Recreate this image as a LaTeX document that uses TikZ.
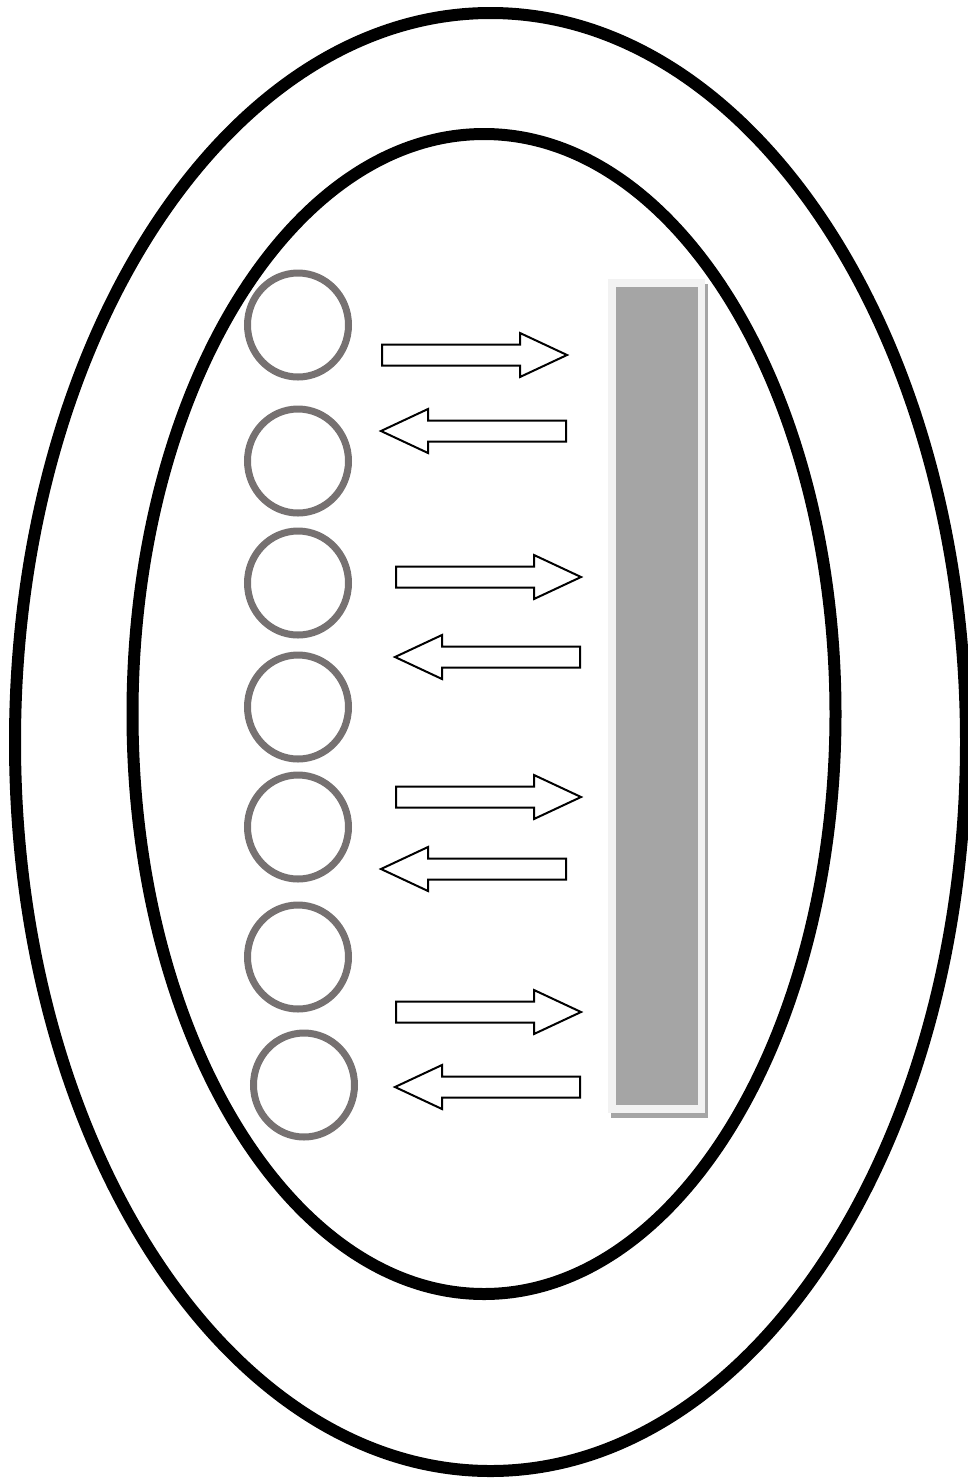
\documentclass[tikz,border=0pt]{standalone}
\usetikzlibrary{shapes.geometric}

\definecolor{ringgray}{HTML}{767171}
\definecolor{panelgray}{HTML}{A5A5A5}
\definecolor{panellight}{HTML}{F2F2F2}

\tikzset{
  oval/.style={draw=black, line width=6pt},
  ring/.style={ellipse, draw=ringgray, line width=3.5pt, inner sep=0pt,
    minimum width=50.5pt, minimum height=52pt},
  blockarrow/.pic={
    \draw[line width=1pt, fill=white]
      (0,-10.5) -- (138,-10.5) -- (138,-22) -- (185,0) -- (138,22)
      -- (138,10.5) -- (0,10.5) -- cycle;
  }
}

\begin{document}
\begin{tikzpicture}[x=0.5pt, y=-0.5pt]

  \useasboundingbox (0,0) rectangle (968,1479);

  % Ovals
  \draw[oval] (490.5,742) ellipse [x radius=237.75pt, y radius=364.5pt];
  \draw[oval] (484,714) ellipse [x radius=175.75pt, y radius=290pt];

  % Circles
  \node[ring] (c1) at (298,325) {};
  \node[ring] (c2) at (298,461) {};
  \node[ring] (c3) at (298,583) {};
  \node[ring] (c4) at (298,707) {};
  \node[ring] (c5) at (298,827) {};
  \node[ring] (c6) at (298,957) {};
  \node[ring] (c7) at (304,1085) {};

  % Panel
  \fill[panelgray] (611,284) rectangle (708,1118);
  \fill[panellight] (608,279) rectangle (705,1113);
  \fill[panelgray] (616,287) rectangle (698,1105);

  % Arrows
  \pic at (382,355) {blockarrow};
  \pic[xscale=-1] at (566,431) {blockarrow};
  \pic at (396,577) {blockarrow};
  \pic[xscale=-1] at (580,657) {blockarrow};
  \pic at (396,797) {blockarrow};
  \pic[xscale=-1] at (566,869) {blockarrow};
  \pic at (396,1012) {blockarrow};
  \pic[xscale=-1] at (580,1087) {blockarrow};

\end{tikzpicture}
\end{document}
